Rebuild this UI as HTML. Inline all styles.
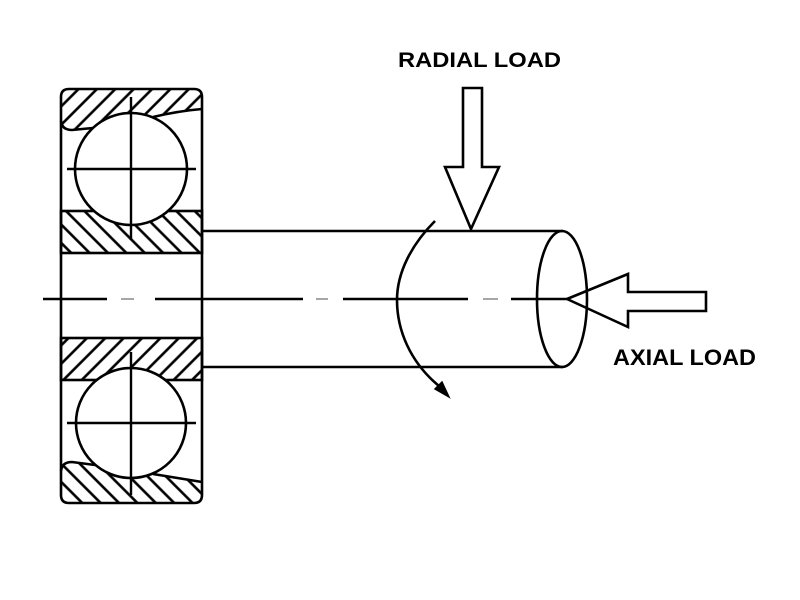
<!DOCTYPE html>
<html><head><meta charset="utf-8"><style>html,body{margin:0;padding:0;background:#fff}svg{display:block}</style></head>
<body>
<svg width="800" height="600" viewBox="0 0 800 600" xmlns="http://www.w3.org/2000/svg">
<defs>
<pattern id="hs" width="13" height="13" patternUnits="userSpaceOnUse" patternTransform="rotate(45)"><line x1="1.5" y1="-2" x2="1.5" y2="15" stroke="#000" stroke-width="2.6"/></pattern>
<pattern id="hb" width="13" height="13" patternUnits="userSpaceOnUse" patternTransform="rotate(-45)"><line x1="1.5" y1="-2" x2="1.5" y2="15" stroke="#000" stroke-width="2.6"/></pattern>
</defs>
<rect width="800" height="600" fill="#fff"/>
<g stroke="#000" stroke-width="2.6" fill="none" stroke-linecap="butt" stroke-linejoin="miter">
<!-- outer ring upper hatch -->
<path d="M61,122 Q62,130 72,130 L93,128 L153,117 Q178,111 202,109 L202,97 Q202,89 194,89 L69,89 Q61,89 61,97 Z" fill="url(#hs)" stroke="none"/>
<!-- outer ring lower hatch -->
<path d="M61,470 Q62,462 72,462 L95,465 L153,474 Q178,478 202,482 L202,495 Q202,503 194,503 L69,503 Q61,503 61,495 Z" fill="url(#hb)" stroke="none"/>
<!-- inner rings -->
<rect x="61" y="211" width="141" height="42" fill="url(#hb)"/>
<rect x="61" y="338" width="141" height="42" fill="url(#hs)"/>
<!-- ring curves -->
<path d="M61,121 Q62,130 72,130 L93,128"/>
<path d="M153,117 Q178,111 202,109"/>
<path d="M61,471 Q62,462 72,462 L95,465"/>
<path d="M153,474 Q178,478 202,482"/>
<!-- outer boundary -->
<path d="M61,97 Q61,89 69,89 L194,89 Q202,89 202,97 L202,495 Q202,503 194,503 L69,503 Q61,503 61,495 Z"/>
<!-- balls -->
<circle cx="131" cy="169" r="56" fill="#fff"/>
<circle cx="131" cy="423" r="55" fill="#fff"/>
<g stroke-width="2.4">
<line x1="67" y1="169" x2="196" y2="169"/>
<line x1="131" y1="97" x2="131" y2="240"/>
<line x1="67" y1="423" x2="196" y2="423"/>
<line x1="131" y1="352" x2="131" y2="495"/>
</g>
<!-- shaft -->
<line x1="202" y1="231" x2="563" y2="231"/>
<line x1="202" y1="367" x2="563" y2="367"/>
<ellipse cx="562" cy="299" rx="25" ry="68"/>
<!-- centerline -->
<g stroke-width="2.6">
<line x1="43" y1="299" x2="107" y2="299"/>
<line x1="155" y1="299" x2="303" y2="299"/>
<line x1="343" y1="299" x2="468" y2="299"/>
<line x1="511" y1="299" x2="567" y2="299"/>
</g>
<g stroke="#888" stroke-width="1.5">
<line x1="121" y1="299" x2="134" y2="299"/>
<line x1="316" y1="299" x2="328" y2="299"/>
<line x1="483" y1="299" x2="498" y2="299"/>
</g>
<!-- rotation arrow -->
<path d="M435,221 C412,244 397,272 397,300 C397,330 410,362 439,386"/>
<polygon points="449,397 435,389 442,382" fill="#000" stroke-width="1.5"/>
<!-- radial arrow -->
<path d="M463,88 L482,88 L482,167 L499,167 L471,229 L445,167 L463,167 Z" fill="none"/>
<!-- axial arrow -->
<path d="M567,299 L628,274 L628,292 L706,292 L706,311 L628,311 L628,327 Z" fill="none"/>
</g>
<text x="398" y="67" font-family="Liberation Sans, Arial, sans-serif" font-weight="bold" font-size="21.5" textLength="163" lengthAdjust="spacingAndGlyphs" fill="#000">RADIAL LOAD</text>
<text x="613" y="365" font-family="Liberation Sans, Arial, sans-serif" font-weight="bold" font-size="22" textLength="143" lengthAdjust="spacingAndGlyphs" fill="#000">AXIAL LOAD</text>
</svg>
</body></html>
